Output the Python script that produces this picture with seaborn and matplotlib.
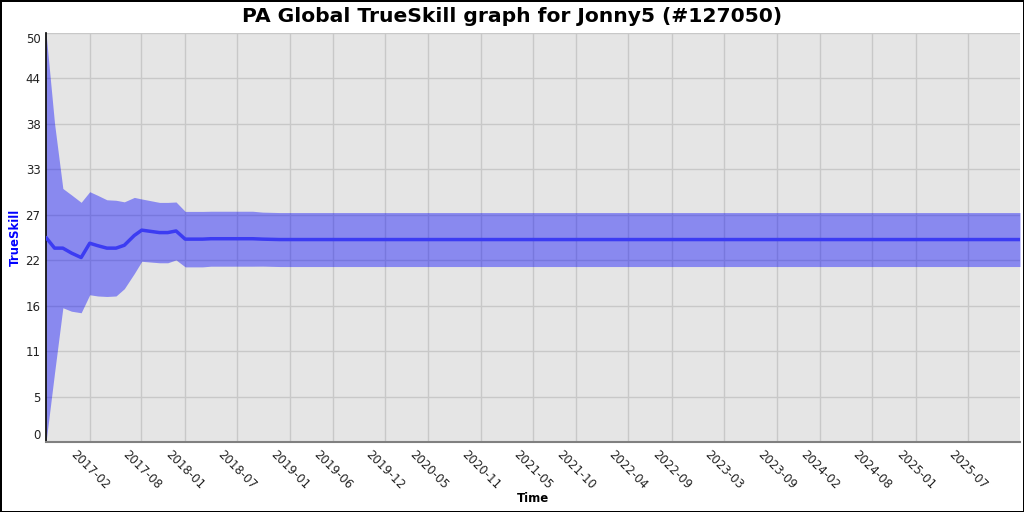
import seaborn as sns
import matplotlib.pyplot as plt
import pandas as pd
import numpy as np

# rating history (mean and sigma, band = mu +- 3 sigma)
dates = ['2016-09-01', '2016-10-01', '2016-10-30', '2016-11-29', '2017-01-02',
         '2017-02-01', '2017-03-01', '2017-04-02', '2017-05-04', '2017-06-02',
         '2017-07-07', '2017-08-02', '2017-10-03', '2017-11-01', '2017-11-30',
         '2018-01-01', '2018-03-03', '2018-04-01', '2018-08-25', '2018-09-29',
         '2018-11-27', '2025-12-31']
mu = [25.0, 23.7, 23.7, 23.1, 22.55,
      24.3, 24.0, 23.7, 23.7, 24.05,
      25.25, 25.9, 25.6, 25.6, 25.8,
      24.8, 24.8, 24.85, 24.85, 24.8,
      24.75, 24.75]
sigma = [8.333, 5.07, 2.43, 2.37, 2.25,
         2.10, 2.05, 1.97, 1.95, 1.77,
         1.55, 1.27, 1.23, 1.23, 1.18,
         1.13, 1.13, 1.12, 1.12, 1.10,
         1.10, 1.10]

x_tick_labels = ['2017-02', '2017-08', '2018-01', '2018-07', '2019-01', '2019-06',
                 '2019-12', '2020-05', '2020-11', '2021-05', '2021-10', '2022-04',
                 '2022-09', '2023-03', '2023-09', '2024-02', '2024-08', '2025-01',
                 '2025-07']
y_tick_labels = ['0', '5', '11', '16', '22', '27', '33', '38', '44', '50']

sns.set_theme(style='darkgrid', rc={
    'axes.facecolor': '#e5e5e5',
    'grid.color': '#c8c8c8',
    'grid.linewidth': 1.0,
})
plt.rcParams['font.family'] = ['DejaVu Sans']


def main():
    df = pd.DataFrame({'date': pd.to_datetime(dates), 'mu': mu, 'sigma': sigma})
    df['lo'] = df['mu'] - 3 * df['sigma']
    df['hi'] = df['mu'] + 3 * df['sigma']

    fig = plt.figure(figsize=(10.24, 5.12), dpi=100)
    fig.patch.set_facecolor('white')
    fig.patch.set_edgecolor('black')
    fig.patch.set_linewidth(2)
    ax = fig.add_axes([46 / 1024, 1 - 442 / 512, 974 / 1024, 409 / 512])

    ax.fill_between(df['date'], df['lo'], df['hi'], color='blue', alpha=0.4, lw=0, zorder=2)
    sns.lineplot(data=df, x='date', y='mu', ax=ax, color='#3c3cf2', lw=2.5, zorder=3)

    ax.set_xlim(df['date'].iloc[0], df['date'].iloc[-1])
    ax.set_ylim(0, 50)

    xt = pd.to_datetime([s + '-01' for s in x_tick_labels])
    ax.set_xticks(xt, x_tick_labels, rotation=-45, ha='center')
    ax.set_yticks(np.linspace(0, 50, len(y_tick_labels)), y_tick_labels)
    ylabels = ax.get_yticklabels()
    ylabels[0].set_va('bottom')
    ylabels[-1].set_va('top')
    ax.tick_params(length=0, pad=4, labelsize=8.5, labelcolor='#222222')

    for s in ['top', 'right']:
        ax.spines[s].set_visible(False)
    ax.spines['left'].set_visible(True)
    ax.spines['left'].set_color('black')
    ax.spines['left'].set_linewidth(1.2)
    ax.spines['bottom'].set_visible(True)
    ax.spines['bottom'].set_color('#808080')
    ax.spines['bottom'].set_linewidth(1.5)

    ax.set_xlabel('Time', fontsize=8.5, fontweight='bold', color='black')
    ax.xaxis.label.set_va('center')
    ax.xaxis.set_label_coords(0.5, -0.139)
    ax.set_ylabel('TrueSkill', fontsize=8.5, fontweight='bold', color='blue')
    ax.yaxis.label.set_va('center')
    ax.yaxis.set_label_coords(-0.031, 0.5)

    fig.suptitle('PA Global TrueSkill graph for Jonny5 (#127050)', y=1 - 17 / 512,
                 va='center', fontsize=14.6, fontweight='bold', color='black')

    fig.savefig('out.png', dpi=100, facecolor='white', edgecolor='black')


if __name__ == '__main__':
    main()
